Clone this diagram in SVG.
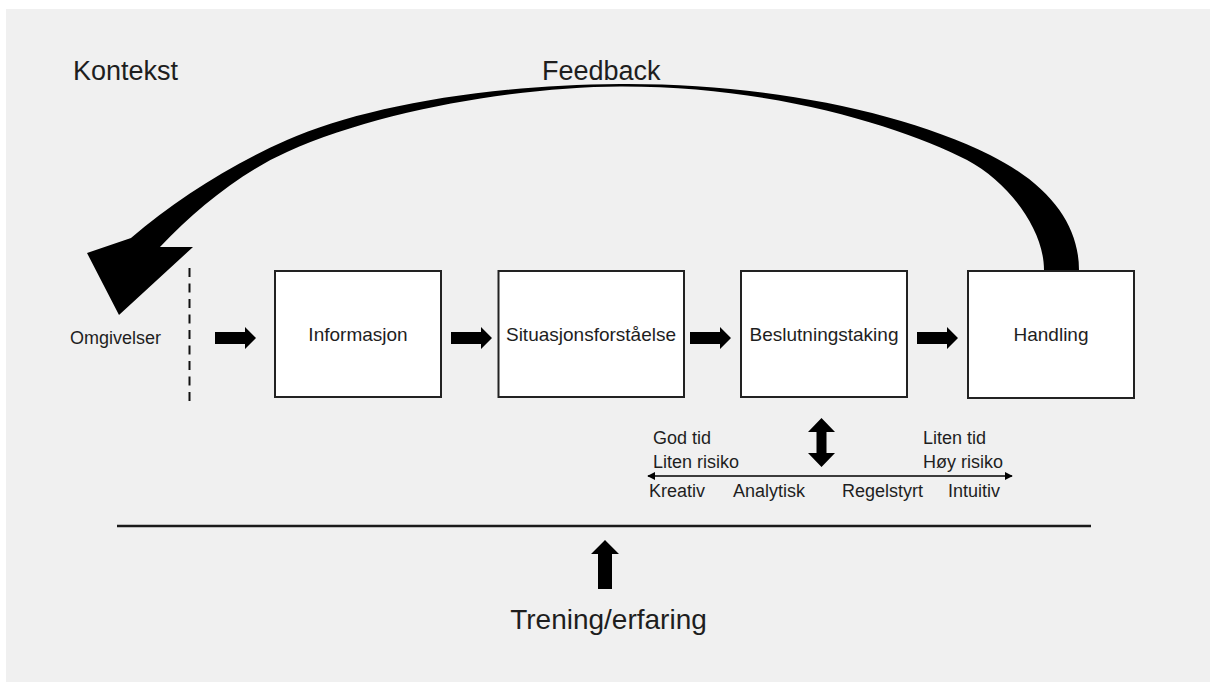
<svg xmlns="http://www.w3.org/2000/svg" width="1210" height="682" viewBox="0 0 1210 682">
<style>
text{font-family:"Liberation Sans",Arial,sans-serif;fill:#1e1e1e}
.box{fill:#ffffff;stroke:#222;stroke-width:2}
.lbl{font-size:19px;text-anchor:middle}
.small{font-size:18px}
.big{font-size:27px}
.blk{fill:#000}
</style>
<defs>
<path id="rarrow" d="M0,-6 H30 V-11 L41,0 L30,11 V6 H0 Z"/>
<marker id="ah" viewBox="0 0 10 10" refX="9" refY="5" markerWidth="8" markerHeight="8" markerUnits="userSpaceOnUse" orient="auto-start-reverse">
<path d="M0,0 L10,5 L0,10 Z" fill="#000"/>
</marker>
</defs>
<rect x="0" y="0" width="1210" height="682" fill="#ffffff"/>
<rect x="6" y="9" width="1204" height="673" fill="#f0f0f0"/>

<text class="big" x="73" y="80">Kontekst</text>
<text class="big" x="542" y="80">Feedback</text>

<g id="connectors">
<path class="blk" d="M131,238 C175,200 230,165 287,140 C360,108 480,85 620,84 C760,83 900,110 990,155 C1050,185 1079,225 1079,270 L1044,270 C1044,230 1010,183 967,160 C905,128 775,86 620,86.5 C520,87 380,110 287,152 C240,173 195,210 160,247 L193,247 L119,315 L87,253 Z"/>
<line x1="189.5" y1="268" x2="189.5" y2="403" stroke="#111" stroke-width="2" stroke-dasharray="9,6.5"/>
<use href="#rarrow" class="blk" transform="translate(215,338)"/>
<use href="#rarrow" class="blk" transform="translate(451,338)"/>
<use href="#rarrow" class="blk" transform="translate(690,338)"/>
<use href="#rarrow" class="blk" transform="translate(917,338)"/>
<path class="blk" d="M821.5,418 L835,432 L826.5,432 L826.5,453 L835,453 L821.5,467 L808,453 L816.5,453 L816.5,432 L808,432 Z"/>
<line x1="648" y1="476" x2="1012" y2="476" stroke="#000" stroke-width="1.6" marker-start="url(#ah)" marker-end="url(#ah)"/>
<line x1="117" y1="526" x2="1091" y2="526" stroke="#1a1a1a" stroke-width="2.5"/>
<path class="blk" d="M605,540 L619,554 L612,554 L612,589 L598,589 L598,554 L591,554 Z"/>
</g>

<g id="omgivelser">
<text class="small" x="70" y="344">Omgivelser</text>
</g>
<g id="informasjon">
<rect class="box" x="275" y="271" width="166" height="126"/>
<text class="lbl" x="358" y="341">Informasjon</text>
</g>
<g id="situasjonsforstaelse">
<rect class="box" x="498.5" y="271" width="185.5" height="126"/>
<text class="lbl" x="591" y="341">Situasjonsforståelse</text>
</g>
<g id="beslutningstaking">
<rect class="box" x="741" y="271" width="166" height="126"/>
<text class="lbl" x="824" y="341">Beslutningstaking</text>
</g>
<g id="handling">
<rect class="box" x="968" y="271" width="166" height="127"/>
<text class="lbl" x="1051" y="341">Handling</text>
</g>

<g id="scale">
<text class="small" x="653" y="444">God tid</text>
<text class="small" x="653" y="468">Liten risiko</text>
<text class="small" x="923" y="444">Liten tid</text>
<text class="small" x="923" y="468">Høy risiko</text>
<text class="small" x="649" y="497">Kreativ</text>
<text class="small" x="733" y="497">Analytisk</text>
<text class="small" x="842" y="497">Regelstyrt</text>
<text class="small" x="948" y="497">Intuitiv</text>
</g>

<g id="trening">
<text x="608.5" y="629" style="font-size:28px;text-anchor:middle">Trening/erfaring</text>
</g>
</svg>
